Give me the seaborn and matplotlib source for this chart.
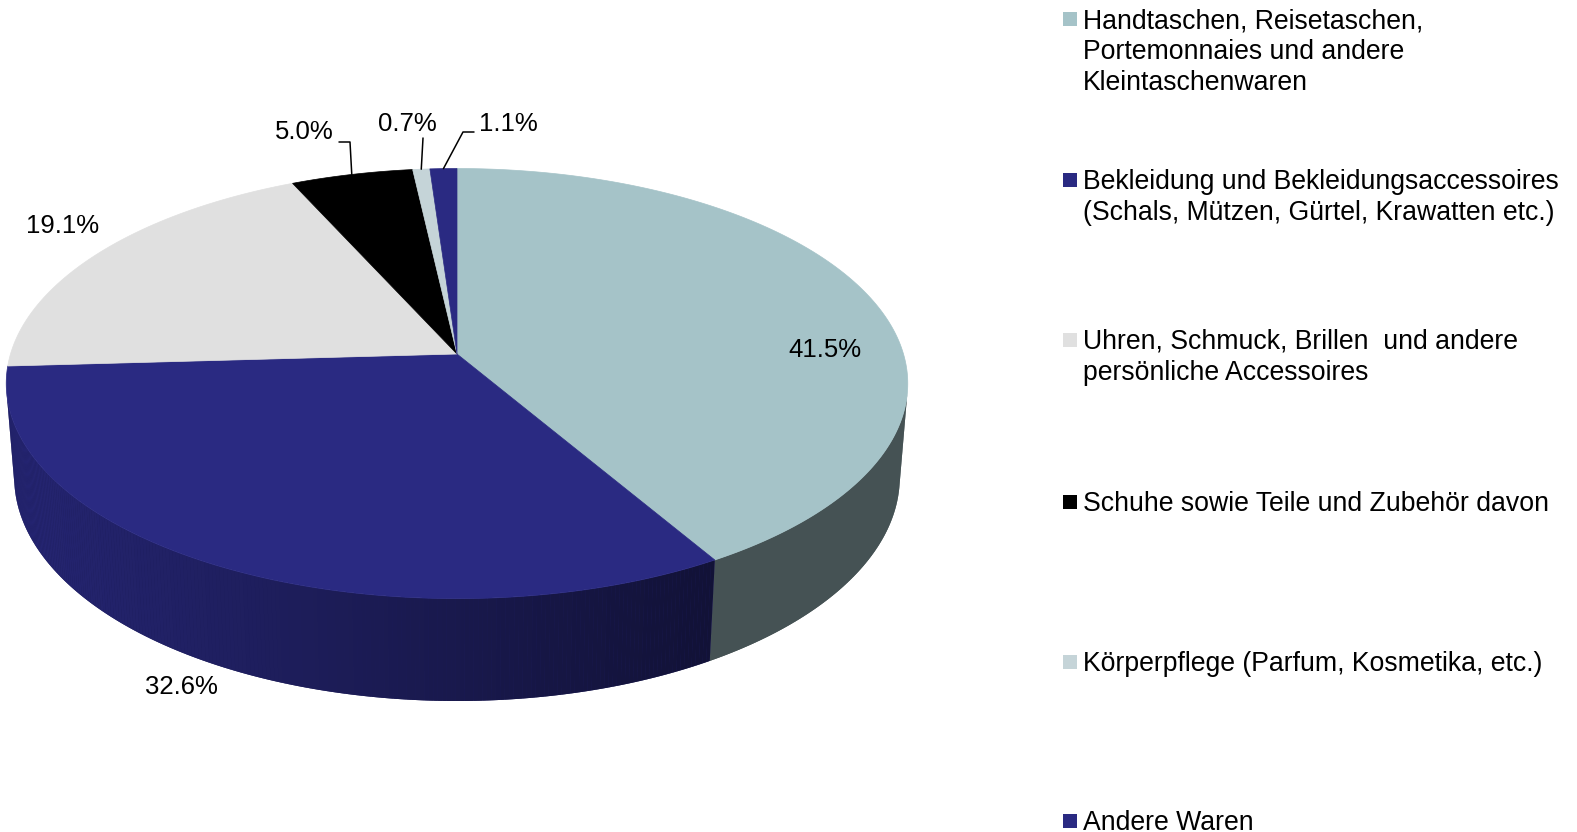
import numpy as np
import matplotlib
matplotlib.use("Agg")
import matplotlib.pyplot as plt
import seaborn as sns
from matplotlib.patches import Polygon, Rectangle
from matplotlib.colors import to_rgb

# Données du graphique
categories = [
    "Handtaschen, Reisetaschen,\nPortemonnaies und andere\nKleintaschenwaren",
    "Bekleidung und Bekleidungsaccessoires\n(Schals, Mützen, Gürtel, Krawatten etc.)",
    "Uhren, Schmuck, Brillen  und andere\npersönliche Accessoires",
    "Schuhe sowie Teile und Zubehör davon",
    "Körperpflege (Parfum, Kosmetika, etc.)",
    "Andere Waren",
]
shares = [41.5, 32.6, 19.1, 5.0, 0.7, 1.1]
share_labels = ["41.5%", "32.6%", "19.1%", "5.0%", "0.7%", "1.1%"]
colors = ["#A5C3C8", "#2A2A82", "#E0E0E0", "#000000", "#C5D4D8", "#2A2A82"]

# Mise en page (pixels de la figure)
label_pos = [(825, 350), (181, 687), (63, 226), (304, 132), (407, 124), (508, 124)]
leaders = {3: [(350, 142), (339, 142)], 4: [(423, 138)], 5: [(463, 132), (474, 132)]}
legend_y = [19, 180, 340, 502, 662, 821]

# Caméra pour la perspective 3D
CX, CY = 457, 354
F, D = 2862, 6.41
ELEV = np.radians(28.2)
DEPTH = 0.24

sns.set_theme(style="white")
plt.rcParams['font.family'] = ['Liberation Sans', 'DejaVu Sans']


def project(theta, h=0.0):
    """Projette un point du disque (angle, hauteur) sur l'image."""
    x = np.cos(theta)
    y = np.sin(theta)
    yc = y * np.sin(ELEV) + h * np.cos(ELEV)
    z = D + y * np.cos(ELEV) - h * np.sin(ELEV)
    return CX + F * x / z, CY - F * yc / z


def side_shade(x):
    # plus sombre vers la droite
    return 0.88 - 0.46 * np.clip((x - 10) / 700, 0, 1)


def side_polygon(t0, t1, n):
    th = np.radians(np.linspace(t0, t1, n))
    xs, ys = project(th)
    bxs, bys = project(th, -DEPTH)
    return list(zip(xs, ys)) + list(zip(bxs[::-1], bys[::-1]))


fig = plt.figure(figsize=(15.77, 8.32), dpi=100)
ax = fig.add_axes([0, 0, 1, 1])
ax.set_xlim(0, 1577)
ax.set_ylim(832, 0)
ax.axis('off')

total = sum(shares)
cum = np.concatenate([[0], np.cumsum(shares)])
start_angles = 90 - 360 * cum[:-1] / total
end_angles = 90 - 360 * cum[1:] / total

# partie visible du bord (limites de la silhouette)
sil = np.degrees(np.arcsin(1 / (D * np.cos(ELEV))))
vis_lo, vis_hi = -180 + sil, -sil

# Faces latérales
for i, (a0, a1) in enumerate(zip(start_angles, end_angles)):
    lo, hi = max(min(a0, a1), vis_lo), min(max(a0, a1), vis_hi)
    if lo >= hi:
        continue
    base = np.array(to_rgb(colors[i]))
    pts = side_polygon(hi, lo, 200)
    xm = np.mean([p[0] for p in pts])
    ax.add_patch(Polygon(pts, closed=True, facecolor=base * side_shade(xm), edgecolor='none'))
    edges = np.linspace(hi, lo, max(2, int((hi - lo) * 2)))
    for s0, s1 in zip(edges[:-1], edges[1:]):
        strip = side_polygon(s0, s1, 4)
        xs = np.mean([p[0] for p in strip])
        ax.add_patch(Polygon(strip, closed=True, facecolor=base * side_shade(xs), edgecolor='none'))

# Faces supérieures
for i, (a0, a1) in enumerate(zip(start_angles, end_angles)):
    n = max(3, int(abs(a1 - a0) * 3))
    th = np.radians(np.linspace(a0, a1, n))
    xs, ys = project(th)
    pts = [(CX, CY)] + list(zip(xs, ys))
    ax.add_patch(Polygon(pts, closed=True, facecolor=colors[i], edgecolor=colors[i], linewidth=0.5))

# Étiquettes et lignes de rappel
for i, lab in enumerate(share_labels):
    ax.text(label_pos[i][0], label_pos[i][1], lab, ha='center', va='center', fontsize=18.5, color='black')
    if i in leaders:
        mid = np.radians((start_angles[i] + end_angles[i]) / 2)
        ax_, ay_ = project(mid)
        pts = [(ax_, ay_)] + leaders[i]
        ax.plot([p[0] for p in pts], [p[1] for p in pts], color='black', linewidth=1.1)

# Légende
for i, cat in enumerate(categories):
    y = legend_y[i]
    ax.add_patch(Rectangle((1063, y - 7), 14, 14, facecolor=colors[i], edgecolor='none'))
    ax.text(1083, y - 11, cat, ha='left', va='top', fontsize=19.2, linespacing=1.26, color='black')

fig.savefig("out.png", dpi=100)
